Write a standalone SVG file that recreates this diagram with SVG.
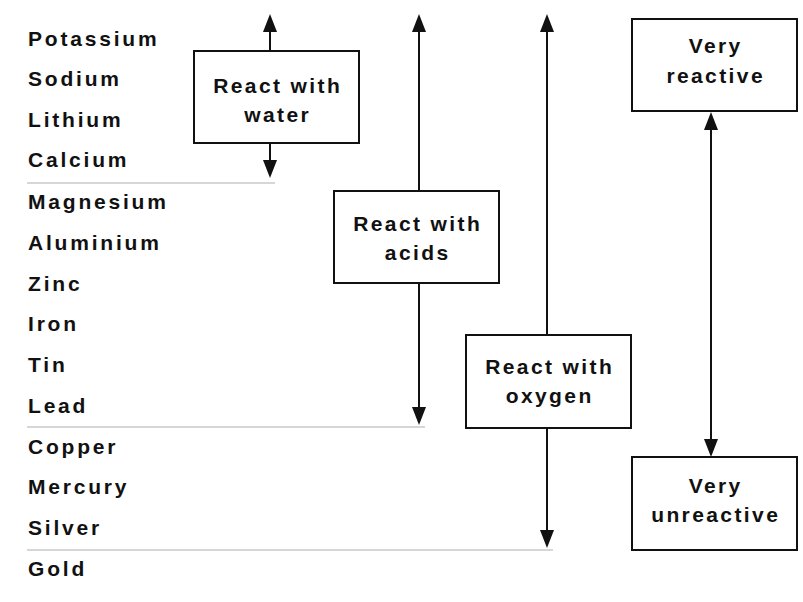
<svg xmlns="http://www.w3.org/2000/svg" width="803" height="602" viewBox="0 0 803 602">
<style>
.t{font-family:"Liberation Sans",Arial,sans-serif;font-weight:bold;font-size:21px;letter-spacing:2.8px;fill:#111}
.c{text-anchor:middle;letter-spacing:2.4px}
.box{fill:#fff;stroke:#111;stroke-width:2}
.sep{stroke:#c8c8c8;stroke-width:1.5}
.ar{stroke:#111;stroke-width:2;fill:none}
</style>
<defs>
<marker id="ah" markerUnits="userSpaceOnUse" markerWidth="18" markerHeight="14" refX="14" refY="7" orient="auto-start-reverse" viewBox="0 0 18 14">
<path d="M0,0 L18,7 L0,14 z" fill="#111"/>
</marker>
</defs>
<rect width="803" height="602" fill="#fff"/>
<g id="metals">
<text class="t" x="28" y="46">Potassium</text>
<text class="t" x="28" y="86">Sodium</text>
<text class="t" x="28" y="127">Lithium</text>
<text class="t" x="28" y="167">Calcium</text>
<text class="t" x="28" y="209">Magnesium</text>
<text class="t" x="28" y="250">Aluminium</text>
<text class="t" x="28" y="291">Zinc</text>
<text class="t" x="28" y="331">Iron</text>
<text class="t" x="28" y="372">Tin</text>
<text class="t" x="28" y="413">Lead</text>
<text class="t" x="28" y="454">Copper</text>
<text class="t" x="28" y="494">Mercury</text>
<text class="t" x="28" y="535">Silver</text>
<text class="t" x="28" y="576">Gold</text>
</g>
<g id="separators">
<line class="sep" x1="27" y1="183" x2="275" y2="183"/>
<line class="sep" x1="27" y1="427" x2="425" y2="427"/>
<line class="sep" x1="27" y1="550" x2="553" y2="550"/>
</g>
<g id="connectors">
<line class="ar" x1="270" y1="51" x2="270" y2="18" marker-end="url(#ah)"/>
<line class="ar" x1="270" y1="143" x2="270" y2="174" marker-end="url(#ah)"/>
<line class="ar" x1="419" y1="191" x2="419" y2="18" marker-end="url(#ah)"/>
<line class="ar" x1="419" y1="283" x2="419" y2="421" marker-end="url(#ah)"/>
<line class="ar" x1="547" y1="335" x2="547" y2="18" marker-end="url(#ah)"/>
<line class="ar" x1="547" y1="428" x2="547" y2="544" marker-end="url(#ah)"/>
<line class="ar" x1="711" y1="116" x2="711" y2="453" marker-start="url(#ah)" marker-end="url(#ah)"/>
</g>
<g id="water">
<rect class="box" x="194" y="51" width="165" height="92"/>
<text class="t c" x="277.7" y="93">React with</text>
<text class="t c" x="277.7" y="122">water</text>
</g>
<g id="acids">
<rect class="box" x="334" y="191" width="165" height="92"/>
<text class="t c" x="417.7" y="231">React with</text>
<text class="t c" x="417.7" y="260">acids</text>
</g>
<g id="oxygen">
<rect class="box" x="466" y="335" width="165" height="93"/>
<text class="t c" x="549.7" y="374">React with</text>
<text class="t c" x="549.7" y="403">oxygen</text>
</g>
<g id="very-reactive">
<rect class="box" x="632" y="19" width="165" height="92"/>
<text class="t c" x="715.7" y="53">Very</text>
<text class="t c" x="715.7" y="83">reactive</text>
</g>
<g id="very-unreactive">
<rect class="box" x="632" y="457" width="165" height="93"/>
<text class="t c" x="715.7" y="493">Very</text>
<text class="t c" x="715.7" y="522">unreactive</text>
</g>
</svg>
